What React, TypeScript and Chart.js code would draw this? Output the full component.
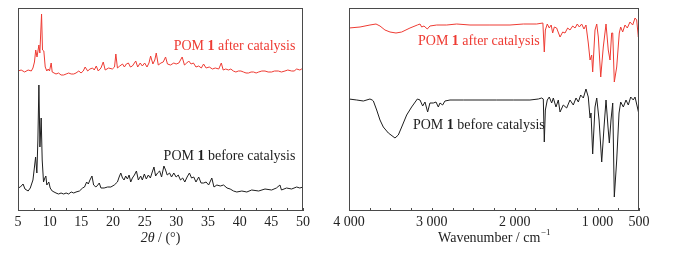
import React, { useEffect, useRef } from "react";
import { Chart, registerables } from "chart.js";
Chart.register(...registerables);

// ---------- XRD (left) ----------
const xrdAfterX = [5.0, 5.5, 6.05, 6.6, 7.1, 7.36, 7.6, 7.8, 8.0, 8.3, 8.45, 8.72, 8.87, 9.08, 9.3, 9.55, 9.76, 9.97, 10.24, 10.4, 11.0, 11.4, 11.8, 12.2, 12.6, 13.0, 13.4, 13.8, 14.16, 14.6, 14.95, 15.3, 15.6, 16.0, 16.36, 16.78, 17.04, 17.36, 17.67, 18.1, 18.46, 18.77, 19.3, 19.9, 20.24, 20.45, 20.7, 21.07, 21.5, 21.8, 22.1, 22.43, 22.75, 23.06, 23.59, 23.9, 24.3, 24.63, 25.0, 25.37, 25.68, 25.94, 26.3, 26.6, 26.83, 27.15, 27.57, 27.93, 28.3, 28.6, 29.08, 29.6, 29.97, 30.4, 30.92, 31.28, 31.65, 31.96, 32.33, 32.7, 33.1, 33.53, 33.95, 34.3, 34.7, 35.2, 35.7, 36.15, 36.7, 37.1, 37.4, 37.8, 38.25, 38.6, 39.0, 39.4, 39.8, 40.2, 40.6, 41.0, 41.4, 41.8, 42.2, 42.6, 43.0, 43.5, 44.0, 44.5, 45.05, 45.5, 46.1, 46.6, 47.15, 47.6, 48.2, 48.6, 49.0, 49.5, 49.8, 50.0];
const xrdAfterY = [140, 141, 139, 141, 140, 143, 149, 161, 154, 166, 158, 197, 161, 160, 144, 140, 142, 140, 148, 139, 137, 138, 136, 136, 137, 138, 137, 137, 138, 140, 138, 140, 144, 140, 142, 143, 141, 145, 140, 143, 149, 141, 143, 142, 144, 157, 143, 145, 147, 144, 147, 148, 144, 145, 150, 144, 148, 145, 148, 144, 148, 155, 147, 151, 158, 146, 148, 149, 154, 147, 146, 148, 147, 148, 154, 146, 148, 150, 147, 148, 144, 145, 143, 147, 143, 144, 142, 143, 142, 148, 141, 142, 141, 142, 140, 139, 140, 140, 139, 138, 138, 139, 139, 138, 139, 140, 140, 139, 139, 140, 140, 139, 140, 141, 140, 140, 142, 141, 142, 141];

const xrdBeforeX = [5.0, 5.37, 5.8, 6.1, 6.6, 6.94, 7.36, 7.6, 7.78, 7.98, 8.14, 8.3, 8.46, 8.56, 8.66, 8.82, 9.03, 9.24, 9.4, 9.55, 9.87, 10.08, 10.4, 11.0, 11.4, 11.8, 12.2, 12.6, 13.0, 13.4, 13.8, 14.16, 14.7, 15.2, 15.5, 15.84, 16.1, 16.36, 16.68, 16.94, 17.3, 17.6, 17.83, 18.1, 18.6, 19.14, 19.66, 20.2, 20.7, 20.97, 21.23, 21.5, 21.75, 22.0, 22.28, 22.54, 22.8, 23.06, 23.38, 23.7, 24.0, 24.37, 24.63, 24.95, 25.26, 25.58, 25.9, 26.2, 26.47, 26.73, 27.04, 27.36, 27.67, 28.04, 28.3, 28.56, 28.93, 29.24, 29.6, 29.97, 30.3, 30.66, 31.0, 31.34, 31.7, 32.07, 32.4, 32.75, 33.1, 33.53, 33.9, 34.32, 34.7, 35.1, 35.6, 35.94, 36.4, 36.94, 37.46, 38.0, 38.5, 39.03, 39.55, 40.34, 41.13, 41.9, 43.0, 44.0, 45.05, 45.8, 46.36, 46.6, 47.4, 48.2, 49.0, 49.5, 50.0];
const xrdBeforeY = [23, 24, 27, 22, 20, 23, 31, 44, 54, 38, 71, 126, 64, 78, 93, 51, 29, 33, 35, 26, 29, 23, 20, 18, 17, 18, 17, 18, 17, 19, 18, 19, 20, 23, 24, 29, 27, 31, 35, 26, 24, 26, 28, 23, 23, 24, 24, 26, 29, 34, 38, 33, 31, 35, 32, 36, 29, 33, 36, 40, 31, 35, 31, 37, 32, 36, 33, 39, 44, 35, 38, 40, 34, 45, 41, 36, 38, 34, 38, 34, 36, 31, 33, 29, 34, 38, 33, 34, 29, 34, 28, 28, 29, 26, 33, 24, 26, 25, 26, 23, 22, 20, 19, 20, 19, 21, 20, 22, 21, 23, 26, 21, 23, 22, 24, 23, 24];

const xrdTickLabels = [5, 10, 15, 20, 25, 30, 35, 40, 45, 50];

// ---------- IR (right) ----------
const irAfterX = [4000, 3867, 3747, 3674, 3626, 3566, 3505, 3433, 3364, 3264, 3175, 3143, 3123, 3095, 3055, 3023, 2942, 2821, 2700, 2540, 2299, 2057, 1896, 1735, 1660, 1643, 1630, 1607, 1583, 1560, 1542, 1522, 1494, 1453, 1421, 1393, 1361, 1333, 1300, 1272, 1245, 1220, 1192, 1164, 1140, 1112, 1091, 1071, 1059, 1031, 1010, 991, 962, 931, 898, 871, 850, 830, 817, 798, 769, 738, 721, 697, 669, 641, 609, 576, 548, 528, 508, 500];
const irAfterY = [183, 184, 186, 187, 185, 181, 179, 178, 179, 183, 186, 187, 184, 185, 182, 185, 186, 186, 187, 186, 186, 186, 187, 187, 188, 159, 181, 187, 183, 186, 178, 184, 183, 174, 179, 178, 183, 181, 185, 183, 187, 184, 187, 182, 186, 168, 151, 156, 139, 181, 187, 174, 134, 164, 187, 161, 151, 178, 178, 129, 144, 178, 184, 179, 186, 183, 189, 186, 193, 191, 174, 178];

const irBeforeX = [4000, 3907, 3827, 3747, 3720, 3706, 3666, 3626, 3586, 3525, 3445, 3405, 3364, 3304, 3244, 3175, 3143, 3111, 3083, 3051, 3023, 2982, 2950, 2922, 2902, 2870, 2842, 2781, 2620, 2419, 2218, 2017, 1816, 1715, 1675, 1655, 1643, 1630, 1607, 1583, 1554, 1534, 1502, 1474, 1453, 1414, 1373, 1333, 1293, 1260, 1232, 1204, 1172, 1140, 1112, 1091, 1079, 1059, 1031, 1010, 982, 950, 922, 898, 874, 858, 838, 817, 798, 769, 741, 721, 689, 657, 629, 600, 569, 548, 520, 504, 500];
const irBeforeY = [112, 111, 110, 112, 111, 110, 101, 91, 84, 78, 73, 76, 84, 96, 104, 112, 111, 105, 109, 99, 108, 108, 109, 104, 108, 106, 110, 111, 111, 111, 111, 111, 111, 112, 113, 112, 69, 101, 111, 114, 108, 113, 104, 111, 99, 106, 103, 111, 106, 113, 109, 116, 113, 122, 114, 93, 98, 57, 104, 113, 91, 49, 84, 111, 84, 68, 91, 108, 14, 51, 98, 109, 104, 111, 106, 114, 111, 114, 104, 98, 96];

const irTickLabels = [4000, 3000, 2000, 1000, 500];

const FONT = '"Liberation Serif", "DejaVu Serif", serif';
const RED = "#ee3b33";
const BLACK = "#1e1e1e";

type Lbl = { x: number; y: number; color: string; parts: string[]; align: "left" | "right" };

function drawLabel(ctx: CanvasRenderingContext2D, px: number, py: number, color: string, parts: string[], align: "left" | "right") {
  const fonts = [`14px ${FONT}`, `bold 14px ${FONT}`, `14px ${FONT}`];
  let total = 0;
  const widths = parts.map((p, i) => {
    ctx.font = fonts[i];
    const w = ctx.measureText(p).width;
    total += w;
    return w;
  });
  let x = align === "right" ? px - total : px;
  ctx.fillStyle = color;
  ctx.textBaseline = "middle";
  ctx.textAlign = "left";
  parts.forEach((p, i) => {
    ctx.font = fonts[i];
    ctx.fillText(p, x, py);
    x += widths[i];
  });
}

function makePlugin(labels: Lbl[], title: "xrd" | "ir") {
  return {
    id: "decor",
    afterDraw(chart: any) {
      const { ctx, chartArea: a, scales } = chart;
      const xs = scales.x;
      const ys = scales.y;
      ctx.save();
      ctx.strokeStyle = "#4a4a4a";
      ctx.lineWidth = 1;
      ctx.strokeRect(a.left + 0.5, a.top + 0.5, a.right - a.left - 1, a.bottom - a.top - 1);
      ctx.beginPath();
      xs.ticks.forEach((t: any) => {
        const px = Math.round(xs.getPixelForValue(t.value)) + 0.5;
        ctx.moveTo(px, a.bottom);
        ctx.lineTo(px, a.bottom - 3);
      });
      ctx.stroke();
      labels.forEach((l) => {
        drawLabel(ctx, xs.getPixelForValue(l.x), ys.getPixelForValue(l.y), l.color, l.parts, l.align);
      });
      const cx = (a.left + a.right) / 2;
      const ty = a.bottom + 27;
      ctx.fillStyle = "#222";
      ctx.textBaseline = "middle";
      ctx.textAlign = "left";
      if (title === "xrd") {
        const p1 = "2θ";
        const p2 = " / (°)";
        ctx.font = `italic 14px ${FONT}`;
        const w1 = ctx.measureText(p1).width;
        ctx.font = `14px ${FONT}`;
        const w2 = ctx.measureText(p2).width;
        let x = cx - (w1 + w2) / 2;
        ctx.font = `italic 14px ${FONT}`;
        ctx.fillText(p1, x, ty);
        x += w1;
        ctx.font = `14px ${FONT}`;
        ctx.fillText(p2, x, ty);
      } else {
        const p1 = "Wavenumber / cm";
        const p2 = "−1";
        ctx.font = `14px ${FONT}`;
        const w1 = ctx.measureText(p1).width;
        ctx.font = `9px ${FONT}`;
        const w2 = ctx.measureText(p2).width;
        let x = cx - (w1 + w2) / 2;
        ctx.font = `14px ${FONT}`;
        ctx.fillText(p1, x, ty);
        x += w1 + 0.5;
        ctx.font = `9px ${FONT}`;
        ctx.fillText(p2, x, ty - 5);
      }
      ctx.restore();
    },
  };
}

function toPts(xs: number[], ys: number[]) {
  return xs.map((x, i) => ({ x, y: ys[i] }));
}

function fmtIR(v: number) {
  const s = String(v);
  return s.length > 3 ? s.slice(0, s.length - 3) + " " + s.slice(s.length - 3) : s;
}

function ChartBox(props: { kind: "xrd" | "ir"; left: number; width: number }) {
  const ref = useRef<HTMLCanvasElement | null>(null);
  useEffect(() => {
    const canvas = ref.current!;
    const isXrd = props.kind === "xrd";
    const datasets = isXrd
      ? [
          { data: toPts(xrdAfterX, xrdAfterY), borderColor: RED },
          { data: toPts(xrdBeforeX, xrdBeforeY), borderColor: BLACK },
        ]
      : [
          { data: toPts(irAfterX, irAfterY), borderColor: RED },
          { data: toPts(irBeforeX, irBeforeY), borderColor: BLACK },
        ];
    const labels: Lbl[] = isXrd
      ? [
          { x: 48.8, y: 165, color: RED, parts: ["POM ", "1", " after catalysis"], align: "right" },
          { x: 48.8, y: 55, color: BLACK, parts: ["POM ", "1", " before catalysis"], align: "right" },
        ]
      : [
          { x: 3167, y: 170, color: RED, parts: ["POM ", "1", " after catalysis"], align: "left" },
          { x: 3228, y: 86, color: BLACK, parts: ["POM ", "1", " before catalysis"], align: "left" },
        ];
    const chart = new Chart(canvas, {
      type: "line",
      data: {
        datasets: datasets.map((d) => ({
          ...d,
          borderWidth: 1,
          pointRadius: 0,
          tension: 0,
          fill: false,
        })),
      },
      options: {
        animation: false,
        responsive: false,
        maintainAspectRatio: false,
        events: [],
        layout: {
          padding: isXrd
            ? { left: 18, right: 27, top: 8, bottom: 0 }
            : { left: 19, right: 37, top: 8, bottom: 0 },
        },
        plugins: { legend: { display: false }, tooltip: { enabled: false } },
        scales: {
          x: {
            type: "linear",
            min: isXrd ? 5 : 500,
            max: isXrd ? 50 : 4000,
            reverse: !isXrd,
            grid: { display: false, drawTicks: false },
            border: { display: false },
            ticks: {
              stepSize: isXrd ? 2.5 : 250,
              autoSkip: false,
              maxRotation: 0,
              padding: 3,
              color: "#222",
              font: { family: FONT, size: 14 },
              callback: (v: any) => {
                const n = Number(v);
                if (isXrd) return xrdTickLabels.includes(n) ? String(n) : "";
                return irTickLabels.includes(n) ? fmtIR(n) : "";
              },
            },
            afterFit: (s: any) => {
              s.height = 45;
            },
          },
          y: {
            type: "linear",
            display: false,
            min: 0,
            max: 203,
          },
        },
      },
      plugins: [makePlugin(labels, props.kind)],
    } as any);
    return () => chart.destroy();
  }, [props.kind]);
  return (
    <div style={{ position: "absolute", left: props.left, top: 0, width: props.width, height: 256 }}>
      <canvas ref={ref} width={props.width} height={256} style={{ width: props.width, height: 256, display: "block" }} />
    </div>
  );
}

export default function App() {
  return (
    <div style={{ position: "fixed", left: 0, top: 0, width: 676, height: 256, background: "#fff" }}>
      <ChartBox kind="xrd" left={0} width={330} />
      <ChartBox kind="ir" left={330} width={346} />
    </div>
  );
}
